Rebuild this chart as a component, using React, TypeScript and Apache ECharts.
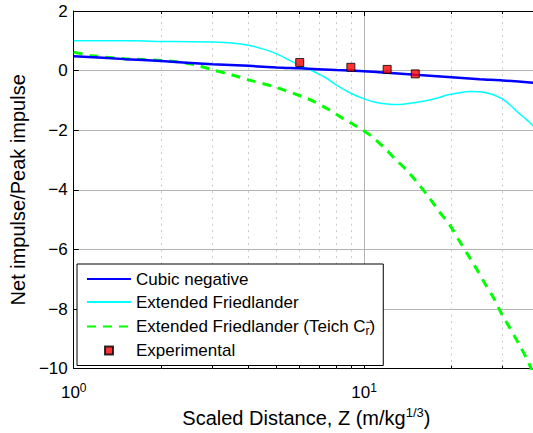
import React, { useEffect, useRef } from "react";
import * as echarts from "echarts";

// ---- data ----
const cubicX = [1, 1.5, 2, 3, 4, 5, 6, 8, 10, 12, 15, 20, 25, 30, 40];
const cubicY = [0.485, 0.385, 0.32, 0.215, 0.16, 0.105, 0.075, 0.02, -0.02, -0.07, -0.14, -0.22, -0.29, -0.33, -0.42];

const friedX = [1, 1.6, 2, 2.5, 3, 3.5, 4, 4.5, 5, 5.5, 6, 6.5, 7, 7.5, 8, 9, 10, 11, 12, 12.7, 14, 16, 18, 19.3, 21, 23.2, 25, 26.5, 28, 30, 32, 34, 36, 38, 40];
const friedY = [1.0, 1.0, 0.98, 0.97, 0.96, 0.93, 0.85, 0.72, 0.56, 0.36, 0.18, 0.03, -0.12, -0.29, -0.48, -0.76, -0.95, -1.07, -1.12, -1.14, -1.11, -1.03, -0.91, -0.82, -0.75, -0.7, -0.71, -0.75, -0.82, -0.96, -1.18, -1.42, -1.62, -1.83, -2.03];

const teichX = [1, 1.15, 1.5, 2, 2.3, 2.66, 3, 3.5, 4, 4.5, 5, 5.8, 6.6, 7.5, 8.3, 9.4, 10.6, 11.7, 12.8, 14.1, 15.4, 16.8, 18.1, 19.7, 21.1, 22.7, 24.4, 26.1, 28, 29.7, 31.8, 34, 36.3, 37.6, 38.5];
const teichY = [0.62, 0.5, 0.4, 0.34, 0.29, 0.18, 0.03, -0.14, -0.31, -0.44, -0.57, -0.79, -1.0, -1.29, -1.56, -1.87, -2.2, -2.58, -2.97, -3.37, -3.81, -4.28, -4.72, -5.18, -5.66, -6.16, -6.66, -7.16, -7.65, -8.15, -8.65, -9.15, -9.67, -10, -10.2];

const expX = [6, 9, 12, 15];
const expY = [0.27, 0.11, 0.04, -0.11];

const minorX = [2, 3, 4, 5, 6, 7, 8, 9, 20, 30];

const NAME_CUBIC = "Cubic negative";
const NAME_FRIED = "Extended Friedlander";
const NAME_TEICH = "Extended Friedlander (Teich C)";
const NAME_EXP = "Experimental";

const FONT = "'Liberation Sans', Arial, Helvetica, sans-serif";

const zip = (xs: number[], ys: number[]) => xs.map((x, i) => [x, ys[i]]);

function buildOption(): any {
  const tickSegs: any[] = [];
  minorX.forEach((v) => {
    tickSegs.push([{ coord: [v, -10] }, { coord: [v, -9.9] }]);
    tickSegs.push([{ coord: [v, 2] }, { coord: [v, 1.9] }]);
  });
  const hideSym = { opacity: 0 };
  return {
    animation: false,
    backgroundColor: "#ffffff",
    textStyle: { fontFamily: FONT },
    grid: { left: 71, top: 11, width: 468, height: 361 },
    xAxis: [
      {
        type: "log",
        logBase: 10,
        min: 1,
        max: 40,
        axisLine: { show: true, onZero: false, lineStyle: { color: "#000", width: 1 } },
        axisTick: { show: true, inside: true, length: 5, lineStyle: { color: "#000" } },
        splitLine: { show: true, lineStyle: { color: "#b4b4b4", width: 1 } },
        axisLabel: {
          margin: 13,
          color: "#000",
          formatter: (v: number) => {
            const l = Math.log10(v);
            if (Math.abs(l - Math.round(l)) > 1e-6) return "";
            return `{b|10}{s|${Math.round(l)}}`;
          },
          rich: {
            b: { fontSize: 17, fontFamily: FONT, color: "#000" },
            s: { fontSize: 12, fontFamily: FONT, color: "#000", padding: [0, 0, 10, 0] },
          },
        },
        name: "{a|Scaled Distance, Z (m/kg}{s|1/3}{a|)}",
        nameLocation: "middle",
        nameGap: 36,
        nameTextStyle: {
          rich: {
            a: { fontSize: 20, fontFamily: FONT, color: "#000" },
            s: { fontSize: 13, fontFamily: FONT, color: "#000", padding: [0, 0, 11, 0] },
          },
        },
      },
      {
        type: "log",
        logBase: 10,
        min: 1,
        max: 40,
        position: "top",
        axisLine: { show: true, onZero: false, lineStyle: { color: "#000", width: 1 } },
        axisTick: { show: true, inside: true, length: 5, lineStyle: { color: "#000" } },
        axisLabel: { show: false },
        splitLine: { show: false },
      },
    ],
    yAxis: {
      type: "value",
      min: -10,
      max: 2,
      interval: 2,
      axisLine: { show: true, onZero: false, lineStyle: { color: "#000", width: 1 } },
      axisTick: { show: true, inside: true, length: 5, lineStyle: { color: "#000" } },
      splitLine: { show: true, lineStyle: { color: "#b4b4b4", width: 1 } },
      axisLabel: {
        margin: 6,
        color: "#000",
        fontSize: 17,
        fontFamily: FONT,
        formatter: (v: number) => (v < 0 ? "\u2212" + Math.abs(v) : String(v)),
      },
      name: "Net impulse/Peak impulse",
      nameLocation: "middle",
      nameGap: 37,
      nameTextStyle: { fontSize: 20, fontFamily: FONT, color: "#000" },
    },
    legend: {
      orient: "vertical",
      left: 77,
      top: 264,
      backgroundColor: "#ffffff",
      borderColor: "#000",
      borderWidth: 1,
      padding: [6, 8, 6, 9],
      itemGap: 5,
      itemWidth: 44,
      itemHeight: 8,
      symbolKeepAspect: true,
      textStyle: {
        fontFamily: FONT,
        fontSize: 17,
        color: "#000",
        lineHeight: 18,
        rich: {
          t: { fontFamily: FONT, fontSize: 17, color: "#000", lineHeight: 18 },
          sup: { fontFamily: FONT, fontSize: 12, color: "#000", padding: [0, 0, 9, 0], width: 0 },
          sub: { fontFamily: FONT, fontSize: 12, color: "#000", padding: [8, 0, 0, 0] },
        },
      },
      data: [
        { name: NAME_CUBIC, itemStyle: hideSym },
        { name: NAME_FRIED, itemStyle: hideSym },
        { name: NAME_TEICH, itemStyle: hideSym },
        { name: NAME_EXP, icon: "path://M0,0L8,0L8,8L0,8Z" },
      ],
      formatter: (name: string) =>
        name === NAME_TEICH
          ? "{t|Extended Friedlander (Teich C}{sup|\u2212}{sub|r}{t|)}"
          : name,
    },
    series: [
      {
        name: "_grid",
        type: "line",
        data: [],
        silent: true,
        markLine: {
          silent: true,
          symbol: ["none", "none"],
          label: { show: false },
          z: 1,
          data: [
            ...minorX.map((v) => ({
              xAxis: v,
              lineStyle: { color: "#c8c8c8", width: 1, type: [2, 4.5] },
            })),
            ...tickSegs.map((seg) => {
              seg[0].lineStyle = { color: "#000", width: 1, type: "solid" };
              return seg;
            }),
          ],
        },
      },
      {
        name: NAME_TEICH,
        type: "line",
        data: zip(teichX, teichY),
        symbol: "none",
        smooth: 0.25,
        z: 3,
        lineStyle: { color: "#00ff00", width: 3, type: [9, 7] },
        itemStyle: { color: "#00ff00" },
      },
      {
        name: NAME_FRIED,
        type: "line",
        data: zip(friedX, friedY),
        symbol: "none",
        smooth: 0.3,
        z: 4,
        lineStyle: { color: "#00ffff", width: 1.5 },
        itemStyle: { color: "#00ffff" },
      },
      {
        name: NAME_CUBIC,
        type: "line",
        data: zip(cubicX, cubicY),
        symbol: "none",
        smooth: 0.3,
        z: 5,
        lineStyle: { color: "#0000ff", width: 2.5 },
        itemStyle: { color: "#0000ff" },
      },
      {
        name: NAME_EXP,
        type: "scatter",
        data: zip(expX, expY),
        symbol: "rect",
        symbolSize: 8,
        z: 6,
        itemStyle: { color: "#ff0000", borderColor: "#000", borderWidth: 1 },
      },
    ],
  };
}

export default function App() {
  const ref = useRef<HTMLDivElement>(null);
  useEffect(() => {
    if (!ref.current) return;
    const chart = echarts.init(ref.current, null, { renderer: "svg" });
    chart.setOption(buildOption());
    return () => chart.dispose();
  }, []);
  return (
    <div
      style={{
        position: "fixed",
        left: 0,
        top: 0,
        width: 533,
        height: 433,
        overflow: "hidden",
        background: "#fff",
      }}
    >
      <div ref={ref} style={{ width: 545, height: 433 }} />
    </div>
  );
}
